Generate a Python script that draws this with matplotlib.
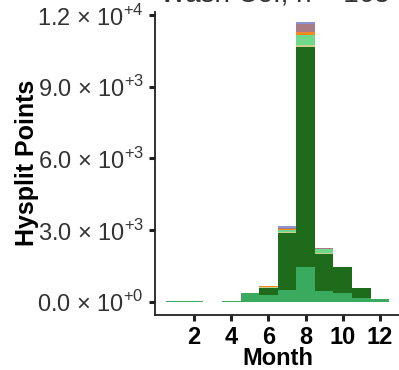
import matplotlib
matplotlib.use('Agg')
from matplotlib import pyplot as plt

plt.rcParams['font.family'] = ['Liberation Sans', 'DejaVu Sans']
plt.rcParams['mathtext.fontset'] = 'custom'
plt.rcParams['mathtext.rm'] = 'Liberation Sans'

months = list(range(1, 13))

# stacked counts per month, bottom layer first
medium_green = [25, 25, 0, 30, 370, 280, 490, 1465, 448, 377, 142, 100]
dark_green = [0, 0, 0, 0, 0, 280, 2373, 9184, 1535, 1088, 444, 10]
olive = [0, 0, 0, 0, 0, 50, 40, 96, 40, 0, 0, 0]
mint = [0, 0, 0, 0, 0, 10, 90, 419, 160, 0, 0, 0]
orange = [0, 0, 0, 0, 0, 30, 40, 140, 40, 0, 0, 0]
mauve = [0, 0, 0, 0, 0, 0, 50, 322, 35, 0, 0, 0]
blue = [0, 0, 0, 0, 0, 0, 70, 96, 0, 0, 0, 0]

layers = [medium_green, dark_green, olive, mint, orange, mauve, blue]
colors = ['#3aaa5e', '#1f6b1c', '#c9cf8c', '#6fd88a', '#f28a24', '#a97b82', '#8f90d0']

yticks = [0, 3000, 6000, 9000, 12000]
ytick_labels = ['0.0 × 10$^{+0}$', '3.0 × 10$^{+3}$', '6.0 × 10$^{+3}$',
                '9.0 × 10$^{+3}$', '1.2 × 10$^{+4}$']
xticks = [2, 4, 6, 8, 10, 12]


def main():
    fig = plt.figure(figsize=(3.99, 3.70), dpi=100)
    ax = fig.add_axes([0.3885, 0.15, 0.615, 0.8176])

    bottom = [0] * len(months)
    for vals, col in zip(layers, colors):
        ax.bar(months, vals, width=1.0, bottom=bottom, color=col, linewidth=0)
        bottom = [b + v for b, v in zip(bottom, vals)]

    ax.set_xlim(-0.1, 13.1)
    ax.set_ylim(-540, 12130)
    ax.set_yticks(yticks)
    ax.set_yticklabels(ytick_labels)
    ax.set_xticks(xticks)
    ax.set_xticklabels([str(x) for x in xticks], fontweight='bold')

    for side in ['top', 'right']:
        ax.spines[side].set_visible(False)
    for side in ['left', 'bottom']:
        ax.spines[side].set_linewidth(1.3)
        ax.spines[side].set_color('#222222')

    ax.tick_params(axis='y', labelsize=17, colors='#222222', labelcolor='#333333',
                   length=4, width=2.2, pad=4)
    ax.tick_params(axis='x', labelsize=17, colors='#222222', labelcolor='black',
                   length=4, width=2.2, pad=4)

    ax.set_xlabel('Month', fontsize=17, fontweight='bold', labelpad=-1)
    ax.set_ylabel('Hysplit Points', fontsize=18, fontweight='bold', labelpad=-1)

    fig.text(0.69, 0.995, 'Wash Co., n = 163', fontsize=20, color='#333333',
             ha='center', va='baseline')

    fig.savefig('out.png', dpi=100)


if __name__ == '__main__':
    main()
